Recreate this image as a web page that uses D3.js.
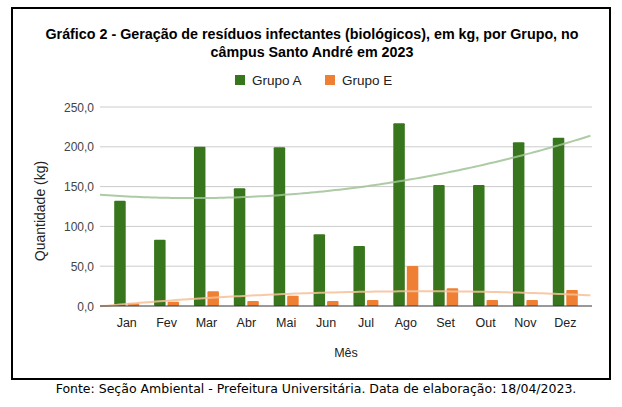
<!DOCTYPE html>
<html>
<head>
<meta charset="utf-8">
<script src="https://cdn.jsdelivr.net/npm/d3@7"></script>
<style>
  body { margin: 0; background: #fff; }
  svg { display: block; }
</style>
</head>
<body>
<svg id="chart" width="622" height="407"></svg>
<script>
const months = ["Jan", "Fev", "Mar", "Abr", "Mai", "Jun", "Jul", "Ago", "Set", "Out", "Nov", "Dez"];
const grupoA = [132.3, 83.3, 200.1, 147.8, 199.4, 90.0, 75.4, 229.5, 152.0, 152.0, 205.6, 211.4];
const grupoE = [3.4, 5.4, 18.4, 6.3, 13.0, 6.3, 7.5, 50.2, 22.2, 7.5, 7.5, 20.1];
const yTicks = [0, 50, 100, 150, 200, 250];

const svg = d3.select("#chart");
const fmt = v => d3.format(".1f")(v).replace(".", ",");

// frame
svg.append("rect")
    .attr("x", 12).attr("y", 8)
    .attr("width", 598).attr("height", 371)
    .attr("fill", "none").attr("stroke", "#000").attr("stroke-width", 2);

// title
const title = svg.append("text")
    .attr("text-anchor", "middle")
    .style("font-family", "'Liberation Sans', Arial, sans-serif")
    .style("font-weight", "bold")
    .style("font-size", "14.3px")
    .attr("fill", "#000");
title.append("tspan").attr("x", 312).attr("y", 39)
    .text("Gráfico 2 - Geração de resíduos infectantes (biológicos), em kg, por Grupo, no");
title.append("tspan").attr("x", 312).attr("y", 57)
    .text("câmpus Santo André em 2023");

// scales
const x = d3.scaleLinear().domain([0.33, 12.67]).range([100, 592]);
const y = d3.scaleLinear().domain([0, 250]).range([306, 107]);

// gridlines
svg.append("g")
    .selectAll("line")
    .data(yTicks.slice(1))
    .enter()
    .append("line")
    .attr("x1", 100).attr("x2", 592)
    .attr("y1", d => y(d)).attr("y2", d => y(d))
    .attr("stroke", "#ccc").attr("stroke-width", 1);

// y labels
svg.append("g")
    .selectAll("text")
    .data(yTicks)
    .enter()
    .append("text")
    .attr("x", 94)
    .attr("y", d => y(d) + 4.5)
    .attr("text-anchor", "end")
    .style("font-family", "'Liberation Sans', Arial, sans-serif")
    .style("font-size", "12px")
    .attr("fill", "#444")
    .text(d => fmt(d));

// bars
const barW = 11.5, gap = 2;
const groups = svg.append("g")
    .selectAll("g.month")
    .data(months)
    .enter()
    .append("g")
    .attr("class", "month");

groups.append("rect")
    .attr("x", (d, i) => x(i + 1) - gap / 2 - barW)
    .attr("y", (d, i) => y(grupoA[i]))
    .attr("width", barW)
    .attr("height", (d, i) => y(0) - y(grupoA[i]))
    .attr("rx", 1)
    .attr("fill", "#38761d");

groups.append("rect")
    .attr("x", (d, i) => x(i + 1) + gap / 2)
    .attr("y", (d, i) => y(grupoE[i]))
    .attr("width", barW)
    .attr("height", (d, i) => y(0) - y(grupoE[i]))
    .attr("rx", 1)
    .attr("fill", "#ef8033");

// quadratic trendline (least squares)
function quadFit(vals) {
    let s = [0, 0, 0, 0, 0], t = [0, 0, 0];
    vals.forEach((v, i) => {
        const xi = i + 1;
        for (let k = 0; k < 5; k++) s[k] += Math.pow(xi, k);
        for (let k = 0; k < 3; k++) t[k] += v * Math.pow(xi, k);
    });
    // solve 3x3 normal equations
    const m = [
        [s[0], s[1], s[2], t[0]],
        [s[1], s[2], s[3], t[1]],
        [s[2], s[3], s[4], t[2]]
    ];
    for (let c = 0; c < 3; c++) {
        for (let r = c + 1; r < 3; r++) {
            const f = m[r][c] / m[c][c];
            for (let k = c; k < 4; k++) m[r][k] -= f * m[c][k];
        }
    }
    const b = [0, 0, 0];
    for (let r = 2; r >= 0; r--) {
        let acc = m[r][3];
        for (let k = r + 1; k < 3; k++) acc -= m[r][k] * b[k];
        b[r] = acc / m[r][r];
    }
    return xv => b[0] + b[1] * xv + b[2] * xv * xv;
}

const trendLine = d3.line().x(d => x(d[0])).y(d => y(d[1]));
[[grupoA, "#9fc295"], [grupoE, "#f6bf98"]].forEach(([vals, col]) => {
    const f = quadFit(vals);
    const pts = d3.range(0.33, 12.68, 0.1).map(xv => [xv, f(xv)]);
    svg.append("path")
        .attr("d", trendLine(pts))
        .attr("fill", "none")
        .attr("stroke", col)
        .attr("stroke-width", 2)
        .attr("opacity", 0.85);
});

// baseline
svg.append("line")
    .attr("x1", 100).attr("x2", 592)
    .attr("y1", y(0)).attr("y2", y(0))
    .attr("stroke", "#333").attr("stroke-width", 1);

// x labels
svg.append("g")
    .selectAll("text")
    .data(months)
    .enter()
    .append("text")
    .attr("x", (d, i) => x(i + 1))
    .attr("y", 327)
    .attr("text-anchor", "middle")
    .style("font-family", "'Liberation Sans', Arial, sans-serif")
    .style("font-size", "12.5px")
    .attr("fill", "#222")
    .text(d => d);

// axis titles
svg.append("text")
    .attr("x", 346).attr("y", 357)
    .attr("text-anchor", "middle")
    .style("font-family", "'Liberation Sans', Arial, sans-serif")
    .style("font-size", "12.5px")
    .attr("fill", "#222")
    .text("Mês");

svg.append("text")
    .attr("transform", "translate(45,211) rotate(-90)")
    .attr("text-anchor", "middle")
    .style("font-family", "'Liberation Sans', Arial, sans-serif")
    .style("font-size", "14px")
    .attr("fill", "#222")
    .text("Quantidade (kg)");

// legend
const legend = [["Grupo A", "#38761d", 235], ["Grupo E", "#ef8033", 325]];
legend.forEach(([label, col, lx]) => {
    svg.append("rect")
        .attr("x", lx).attr("y", 75)
        .attr("width", 10).attr("height", 10)
        .attr("fill", col);
    svg.append("text")
        .attr("x", lx + 17).attr("y", 85)
        .style("font-family", "'Liberation Sans', Arial, sans-serif")
        .style("font-size", "13.5px")
        .attr("fill", "#222")
        .text(label);
});

// source
svg.append("text")
    .attr("x", 316).attr("y", 393)
    .attr("text-anchor", "middle")
    .style("font-family", "'DejaVu Sans', Verdana, sans-serif")
    .style("font-size", "12.5px")
    .attr("fill", "#000")
    .text("Fonte: Seção Ambiental - Prefeitura Universitária. Data de elaboração: 18/04/2023.");
</script>
</body>
</html>
